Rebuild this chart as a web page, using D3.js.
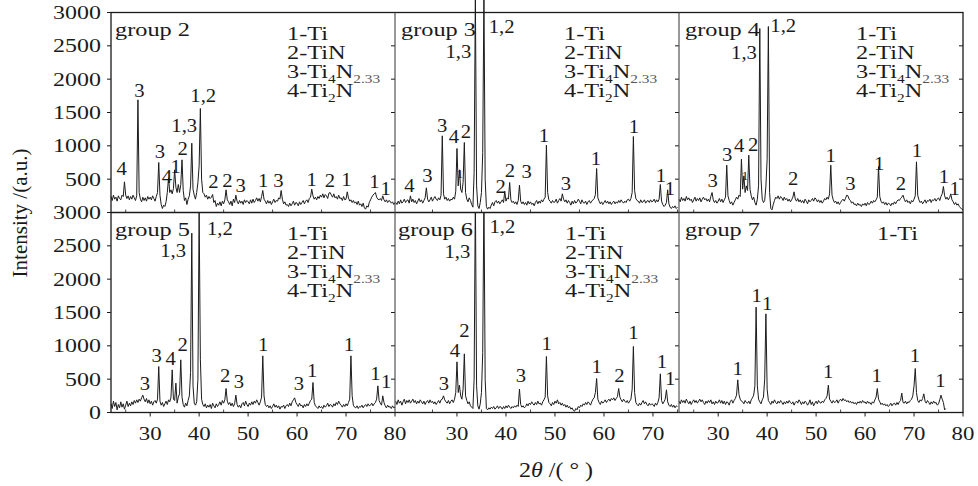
<!DOCTYPE html>
<html><head><meta charset="utf-8">
<script src="https://cdn.jsdelivr.net/npm/d3@7"></script>
<style>body{margin:0;background:#fff}svg{display:block}text{font-family:"Liberation Serif","Times New Roman",serif;fill:#1a1a1a}</style>
</head><body><svg id="c" width="978" height="486"></svg>
<script>
// ---------------- DATA ----------------
const groupNames = ["group 2","group 3","group 4","group 5","group 6","group 7"];
const yTickValues = [0,500,1000,1500,2000,2500,3000];
const xTicksLeft = [30,40,50,60,70,80];
const xTicksMid = [30,40,50,60,70];
const xTicksRight = [30,40,50,60,70,80];
const sampleStart = [22,17.5,22,22,17.5,22];
const sampleStep = 0.25;

const g2 = [240,180,260,200,230,170,250,210,190,260,240,460,260,210,250,190,240,200,260,220,180,250,1690,300,
200,160,230,180,220,170,240,200,230,190,250,210,170,240,300,750,260,120,60,110,90,160,300,520,300,340,280,360,
640,380,300,420,300,420,790,330,180,220,120,200,250,400,1040,350,260,200,300,450,700,1560,500,300,280,230,260,200,
240,210,230,270,150,180,90,140,110,160,100,170,130,190,340,190,160,120,170,100,200,150,260,170,130,180,140,170,
120,190,150,180,160,130,190,140,200,150,180,220,170,210,160,240,330,200,170,130,180,140,170,120,160,200,150,180,
170,220,200,330,200,130,160,110,120,90,140,100,130,170,110,150,140,100,160,120,150,180,130,170,190,150,210,230,
350,250,200,230,190,240,210,260,230,280,220,270,250,210,290,300,260,230,280,220,240,200,260,210,220,180,240,190,
200,310,220,170,190,150,180,140,160,120,170,110,130,90,140,70,50,100,80,150,190,230,260,280,300,230,200,190,
210,180,250,190,160,190,150,180,170,140,160,120,150];

const g3 = [150,120,
170,130,190,140,160,200,150,180,190,140,250,160,200,150,180,130,170,210,160,190,140,180,220,370,200,160,190,230,
170,210,240,200,180,220,190,260,1150,280,200,230,180,210,170,200,190,230,200,320,960,400,640,350,300,450,1050,300,
200,160,220,180,120,80,600,3300,400,100,60,150,300,900,3300,500,90,50,80,60,110,150,100,160,180,140,170,130,
160,190,150,320,170,220,200,450,190,150,170,130,160,120,180,410,170,130,160,120,150,110,170,130,160,120,140,100,
150,180,130,170,140,190,160,200,230,1010,300,190,170,140,180,150,160,200,140,180,210,170,280,200,160,190,140,180,
150,110,170,130,180,140,160,200,170,130,190,150,140,170,120,160,180,140,170,190,210,270,660,220,170,130,160,120,
150,180,140,170,130,160,120,150,170,130,160,140,180,150,190,160,140,170,150,190,200,170,210,300,1140,330,210,180,
170,140,190,150,160,190,140,170,180,150,190,160,170,200,150,190,160,200,420,170,120,90,110,150,340,130,80,60,
90,70,100,60,80];

const g4 = [200,160,230,180,210,170,240,190,220,180,200,150,190,230,170,210,180,220,160,200,230,190,210,170,
200,160,240,300,190,150,180,140,170,210,160,200,150,190,230,710,250,180,130,160,110,150,190,230,200,260,240,800,
350,550,300,400,330,860,350,250,190,230,150,110,200,400,2760,500,200,150,180,400,800,2790,300,60,40,120,180,230,
210,250,200,240,220,180,230,190,210,170,200,160,190,230,310,200,170,210,160,190,150,180,140,200,170,130,190,160,
180,210,170,220,200,160,190,150,180,140,170,210,190,230,200,280,710,260,190,150,170,130,160,120,150,180,200,170,
210,260,250,200,180,140,160,120,130,100,140,110,120,90,130,110,140,100,150,120,130,170,140,180,160,190,230,690,
240,170,140,160,120,150,110,140,130,100,140,120,160,130,170,190,180,210,230,260,200,160,190,150,170,130,180,160,
200,250,760,260,190,150,170,130,160,190,140,180,170,200,150,190,180,210,170,200,220,180,240,280,390,250,200,230,
190,220,280,190,160,120,150,110,130,90,70,50,40];

const g5 = [130,60,170,90,150,40,120,70,160,80,130,50,110,170,90,140,100,160,120,180,140,190,150,200,
170,220,260,200,160,210,140,190,130,170,110,160,180,140,200,690,170,110,150,90,130,170,120,190,160,230,640,200,
180,440,140,230,280,790,230,120,80,140,100,180,250,600,2690,400,140,110,160,500,3000,800,200,120,90,130,70,110,
80,120,60,140,100,70,130,90,120,160,110,180,140,190,360,170,120,150,100,140,90,130,260,120,80,110,70,130,
150,100,170,120,90,140,110,160,120,170,140,190,150,110,160,230,850,250,120,90,110,70,100,60,90,130,80,110,
70,100,50,90,80,110,60,100,120,90,140,100,160,190,220,150,120,90,140,100,110,70,120,90,130,100,140,180,
200,450,150,100,80,60,100,70,90,60,110,80,100,140,90,120,110,80,130,100,150,120,170,130,110,80,120,90,
130,100,150,200,850,250,110,80,70,100,60,90,80,110,70,100,120,90,130,100,110,140,100,130,150,200,400,180,
140,110,250,150,100,70,110,80,90,60,100,70,80];

const g6 = [170,120,
190,140,170,110,160,200,130,180,150,190,140,170,200,150,180,130,170,140,190,160,130,170,120,160,180,140,190,150,
170,130,160,120,150,180,140,190,200,250,190,160,140,180,130,170,190,150,200,300,760,300,410,250,200,350,880,250,
180,130,160,100,80,60,500,3300,400,100,50,130,300,900,3300,500,60,40,70,50,80,60,90,50,70,100,60,90,
80,50,90,60,100,70,110,80,60,90,70,100,80,110,90,350,120,80,100,70,90,130,100,140,120,160,130,110,
150,120,170,130,140,110,160,190,230,840,250,150,130,100,150,120,170,140,190,130,150,110,140,100,120,80,110,70,
90,50,70,30,20,60,40,90,70,110,90,130,110,150,120,160,140,110,160,200,220,300,510,200,150,120,170,140,
160,190,150,180,200,170,210,190,220,180,210,240,360,230,190,160,200,170,150,180,140,170,200,350,990,300,150,120,
100,140,110,150,180,130,160,120,100,140,110,130,120,90,140,110,150,220,580,180,130,160,200,340,160,110,90,120,
80,110,70,100,90];

const g7 = [170,130,190,150,180,140,200,160,130,170,120,160,190,150,180,140,170,200,160,190,150,120,170,140,
180,150,190,130,160,120,170,140,150,190,140,180,130,170,120,160,150,110,170,190,140,180,210,260,490,270,200,170,
160,130,180,150,140,170,130,190,220,260,400,1580,400,200,160,130,190,230,500,1480,350,180,150,120,170,140,190,150,
130,170,140,180,150,120,160,130,170,140,180,150,130,160,110,150,170,140,190,160,120,160,130,170,150,110,140,190,
120,160,100,140,170,130,180,150,140,170,150,190,210,250,410,200,170,140,180,150,160,190,140,180,200,170,210,180,
190,160,180,150,170,140,160,130,150,120,160,140,170,140,180,150,160,130,170,140,150,120,160,140,190,230,360,200,
160,120,140,110,130,100,120,90,110,140,100,130,140,110,150,120,160,180,290,150,140,170,130,160,150,180,200,250,
400,660,300,180,150,190,170,210,280,170,140,180,150,120,160,130,170,140,150,110,130,190,260,200,150,40,60];

const series = [g2,g3,g4,g5,g6,g7];

// peak annotations: [2theta, intensity, text, small?]
const ann2 = [[24.18,562,"4"],[27.78,1737,"3"],[32.0,812,"3"],[33.4,447,"4"],[35.2,587,"1"],[36.63,862,"2"],
[36.96,1212,"1,3"],[40.84,1662,"1,2"],[42.9,362,"2"],[45.76,387,"2"],[48.5,312,"3"],[53.1,387,"1"],[56.17,387,"3"],
[62.96,397,"1"],[66.7,380,"2"],[70.1,397,"1"],[75.8,362,"1"],[78.1,262,"1"]];
const ann3 = [[20.27,312,"4"],[23.95,462,"3"],[27.0,1212,"3"],[29.39,1037,"4"],[30.62,512,"1",1],[31.84,1112,"2"],
[30.27,2312,"1,3"],[39.12,2687,"1,2"],[38.9,287,"2"],[40.82,537,"2"],[44.2,512,"3"],[47.76,1062,"1"],[52.25,337,"3"],
[58.37,712,"1"],[66.1,1187,"1"],[71.6,462,"1"],[73.47,262,"1"]];
const ann4 = [[28.87,387,"3"],[31.86,772,"3"],[34.3,912,"4"],[35.47,487,"1",1],[37.17,927,"2"],[35.27,2297,"1,3"],
[43.29,2712,"1,2"],[45.33,412,"2"],[53.0,762,"1"],[57.0,337,"3"],[62.88,637,"1"],[67.3,337,"2"],[70.6,837,"1"],
[76.1,437,"1"],[78.3,262,"1"]];
const ann5 = [[28.94,337,"3"],[31.33,762,"3"],[34.18,712,"4"],[36.63,927,"2"],[34.7,2327,"1,3"],[44.24,2662,"1,2"],
[45.33,462,"2"],[48.12,362,"3"],[53.1,927,"1"],[60.37,337,"3"],[63.08,537,"1"],[70.6,927,"1"],[75.98,487,"1"],[78.2,362,"1"]];
const ann6 = [[27.35,337,"3"],[29.6,827,"4"],[31.5,1137,"2"],[30.07,2312,"1,3"],[39.25,2687,"1,2"],[43.06,462,"3"],
[48.3,937,"1"],[58.5,587,"1"],[63.14,462,"2"],[66.0,1097,"1"],[71.8,662,"1"],[73.5,412,"1"]];
const ann7 = [[33.97,562,"1"],[37.85,1662,"1"],[40.0,1537,"1"],[52.47,512,"1"],[62.35,462,"1"],[70.16,762,"1"],[75.4,387,"1"]];
const annotations = [ann2,ann3,ann4,ann5,ann6,ann7];

// legend lines: segments [text, isSubscript]
const legendFull = [
  [["1-Ti",false]],
  [["2-TiN",false]],
  [["3-Ti",false],["4",true],["N",false],["2.33",true]],
  [["4-Ti",false],["2",true],["N",false]]
];
const legendTi = [[["1-Ti",false]]];
const legends = [legendFull,legendFull,legendFull,legendFull,legendFull,legendTi];

const yTitle = "Intensity /(a.u.)";

// ---------------- LAYOUT ----------------
const svg = d3.select("#c");
const SX = 1.28;
const cols = [
  {x0:111, x1:395, dom:[22,80], ticks:xTicksLeft},
  {x0:395, x1:679, dom:[17.35,75.31], ticks:xTicksMid},
  {x0:679, x1:963, dom:[22,80], ticks:xTicksRight}
];
const rows = [{y0:12.5, y1:212.5},{y0:212.5, y1:412.5}];
const ink = "#1a1a1a";

function T(sel, x, y, s, size, anchor, sx){
  return sel.append("text")
    .attr("transform", `translate(${x},${y}) scale(${sx===undefined?SX:sx},1)`)
    .attr("text-anchor", anchor||"start")
    .style("font-size", size+"px")
    .text(s);
}

const defs = svg.append("defs");
rows.forEach((r,ri)=>{
  defs.append("clipPath").attr("id","clipRow"+ri).append("rect")
    .attr("x",0).attr("width",978)
    .attr("y", ri===0 ? 0 : r.y0).attr("height", ri===0 ? r.y1 : r.y1-r.y0);
});

const legendDx = [176,169,177,176,170,198];
const groupDx = [4,6,6,4,3,6];

for (let ri=0; ri<2; ri++){
  const r = rows[ri];
  const y = d3.scaleLinear().domain([0,3000]).range([r.y1, r.y0]);
  for (let ci=0; ci<3; ci++){
    const c = cols[ci];
    const k = ri*3+ci;
    const x = d3.scaleLinear().domain(c.dom).range([c.x0, c.x1]);
    const vals = series[k];
    const pts = vals.map((v,i)=>[sampleStart[k]+i*sampleStep, v]);
    const line = d3.line().x(d=>x(d[0])).y(d=>y(d[1]));
    svg.append("path").attr("d", line(pts))
      .attr("fill","none").attr("stroke","#1c1c1c").attr("stroke-width",1.0)
      .attr("stroke-linejoin","round")
      .attr("clip-path", `url(#clipRow${ri})`);

    // group name
    T(svg, c.x0+groupDx[k], r.y0+23.5, groupNames[k], 19);

    // legend
    const lg = legends[k];
    lg.forEach((segs,li)=>{
      const t = svg.append("text")
        .attr("transform", `translate(${c.x0+legendDx[k]},${r.y0+27.5+li*19}) scale(${SX},1)`)
        .style("font-size","19px");
      let sub=false;
      segs.forEach(([s,isSub])=>{
        const ts = t.append("tspan").text(s);
        if (isSub && !sub){ ts.attr("dy",5).style("font-size","12px"); if(s.length>1) ts.style("fill","#555"); sub=true; }
        else if (isSub){ ts.style("font-size","12px"); }
        else if (!isSub && sub){ ts.attr("dy",-5); sub=false; }
      });
    });

    // peak annotations
    annotations[k].forEach(([d,v,s,small])=>{
      T(svg, x(d), y(v), s, small?13:18, "middle", small?1.0:1.15);
    });

    // x axis ticks + labels (bottom row only)
    if (ri===1){
      c.ticks.forEach(t=>{
        svg.append("line").attr("x1",x(t)).attr("x2",x(t)).attr("y1",r.y1).attr("y2",r.y1+4)
          .attr("stroke",ink).attr("stroke-width",1);
        T(svg, x(t), 440, String(t), 19, "middle", 1.2);
      });
    }
    // minor x ticks inward at 5-degree positions
    const minors = d3.range(Math.ceil(c.dom[0]/5)*5, c.dom[1], 5).filter(t=>t%10!==0);
    minors.forEach(t=>{
      svg.append("line").attr("x1",x(t)).attr("x2",x(t)).attr("y1",r.y1).attr("y2",r.y1-3)
        .attr("stroke",ink).attr("stroke-width",0.8);
    });
    // y ticks on left edge of each panel (outward) and right edge of last panel (inward)
    yTickValues.forEach(t=>{
      svg.append("line").attr("x1",c.x0-4).attr("x2",c.x0).attr("y1",y(t)).attr("y2",y(t))
        .attr("stroke",ink).attr("stroke-width",1);
      if (ci===2){
        svg.append("line").attr("x1",c.x1-4).attr("x2",c.x1).attr("y1",y(t)).attr("y2",y(t))
          .attr("stroke",ink).attr("stroke-width",1);
      }
    });
  }
  // y tick labels
  yTickValues.forEach(t=>{
    if (ri===0 && t===0) return;
    T(svg, 101, y(t)+6.5, String(t), 19, "end", 1.26);
  });
}

// frame & dividers
svg.append("rect").attr("x",111).attr("y",12.5).attr("width",963-111).attr("height",400)
  .attr("fill","none").attr("stroke",ink).attr("stroke-width",1.3);
svg.append("line").attr("x1",111).attr("x2",963).attr("y1",212.5).attr("y2",212.5)
  .attr("stroke",ink).attr("stroke-width",1.3);
[395,679].forEach(xx=>{
  svg.append("line").attr("x1",xx).attr("x2",xx).attr("y1",12.5).attr("y2",412.5)
    .attr("stroke","#444").attr("stroke-width",1.1);
});

// axis titles
svg.append("text").attr("transform","translate(27,213) rotate(-90)")
  .attr("text-anchor","middle").style("font-size","21px").text(yTitle);
const xt = svg.append("text").attr("transform","translate(556,477) scale(1.2,1)")
  .attr("text-anchor","middle").style("font-size","20px");
xt.append("tspan").text("2");
xt.append("tspan").style("font-style","italic").text("θ");
xt.append("tspan").text(" /( ° )");
</script>
</body></html>
